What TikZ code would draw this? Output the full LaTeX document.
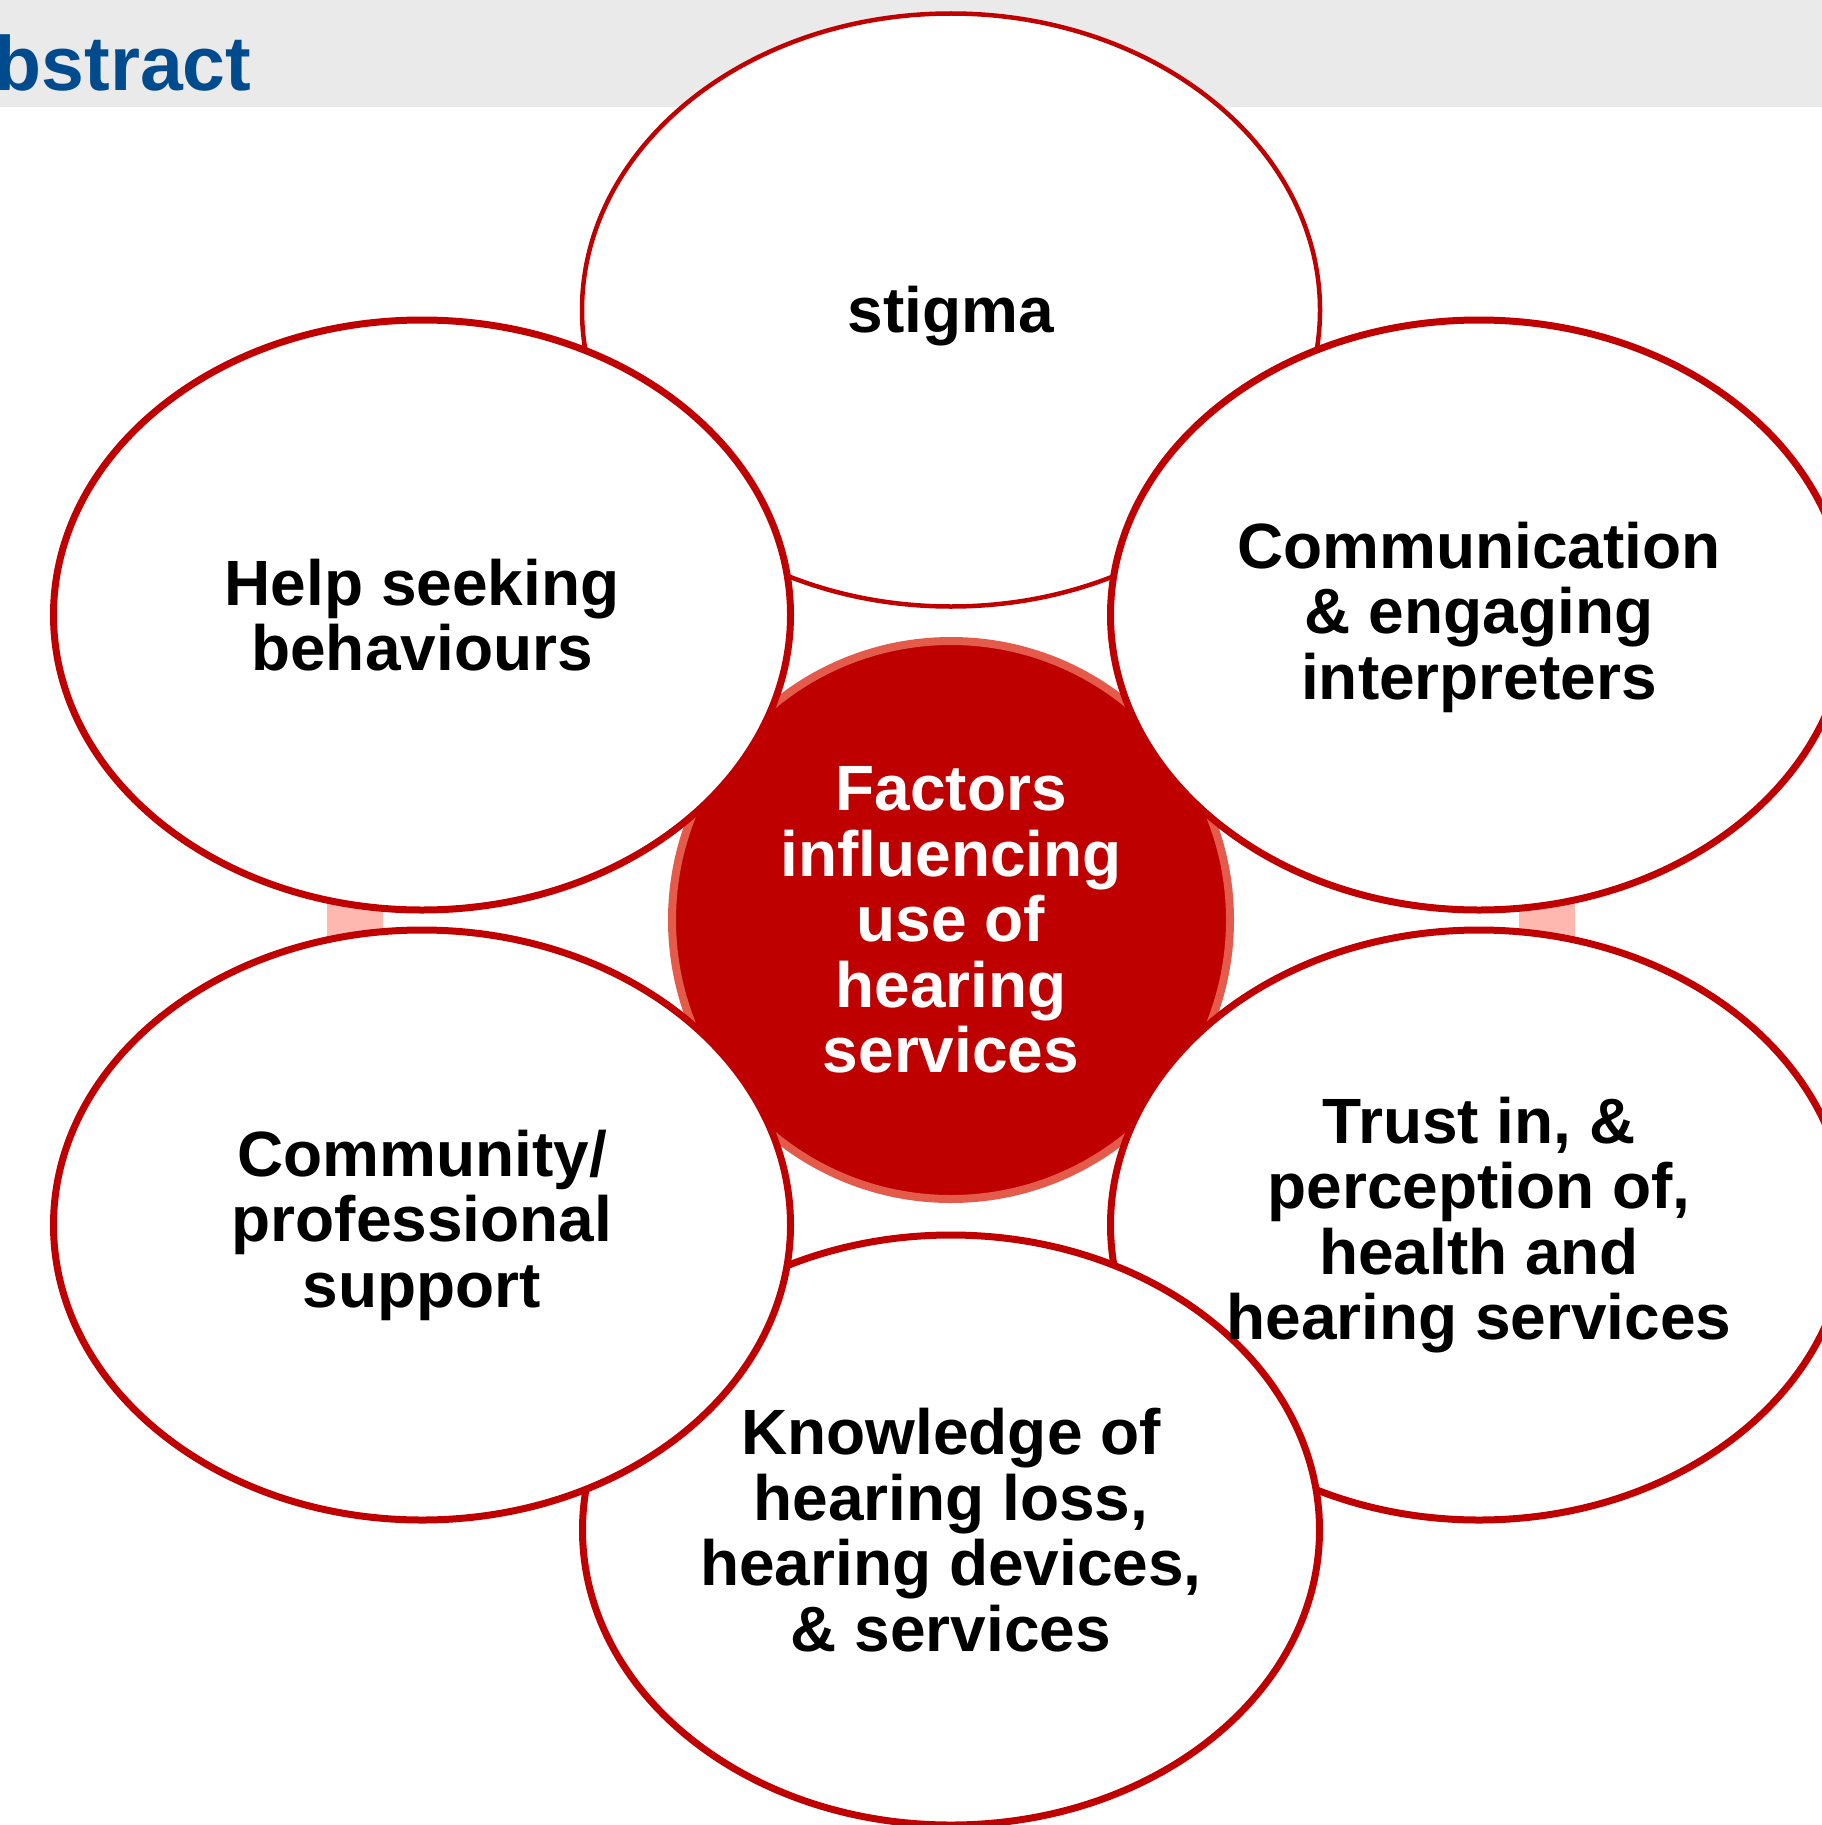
\documentclass[tikz,border=0pt]{standalone}
\usepackage{fontspec}
\setmainfont{Liberation Sans}
\usetikzlibrary{shapes.geometric}
\definecolor{ring}{HTML}{C00000}
\definecolor{core}{HTML}{BE0000}
\definecolor{coreedge}{HTML}{E55B4B}
\definecolor{pinkbar}{HTML}{FFB8B0}
\definecolor{headgrey}{HTML}{EAEAEA}
\definecolor{headblue}{HTML}{004B8D}
\tikzset{
  petal/.style={ellipse, draw=ring, fill=white, line width=7pt,
    minimum width=737pt, minimum height=590pt, inner sep=0pt},
  thinpetal/.style={petal, line width=4.5pt,
    minimum width=738pt, minimum height=593pt},
  hub/.style={circle, draw=coreedge, fill=core, line width=8pt,
    minimum size=558pt, inner sep=0pt},
  lbl/.style={align=center, inner sep=0pt,
    font=\fontsize{64}{65.5}\selectfont\bfseries},
  pinkpiece/.style={fill=pinkbar, draw=none}
}
\begin{document}
\begin{tikzpicture}[x=1pt,y=-1pt]
\useasboundingbox (0,0) rectangle (1822,1825);
% header band
\fill[headgrey] (0,0) rectangle (1822,107);
\node[anchor=base west, inner sep=0pt, text=headblue,
  font=\bfseries\fontsize{77}{80}\selectfont] (head) at (-5.5,91) {bstract};
% pink pieces behind the petals
\fill[pinkpiece] (327,890) rectangle (383,950);
\fill[pinkpiece] (1519,890) rectangle (1575,950);
% hub
\node[hub] (hub) at (951,920) {};
% petals
\node[thinpetal] (stigma) at (951,310) {};
\node[petal] (comm) at (1479,615) {};
\node[petal] (trust) at (1479,1225) {};
\node[petal] (know) at (951,1530) {};
\node[petal] (commun) at (422,1225) {};
\node[petal] (help) at (422,615) {};
% labels
\node[lbl, text=white] (hubt) at (hub.center) {Factors\\influencing\\use of\\hearing\\services};
\node[lbl] (stigmat) at ([yshift=-6pt]stigma.center) {stigma};
\node[lbl] (commt) at ([yshift=-2pt]comm.center) {Communication\\\& engaging\\interpreters};
\node[lbl] (trustt) at (trust.center) {Trust in, \&\\perception of,\\health and\\hearing services};
\node[lbl] (knowt) at (know.center) {Knowledge of\\hearing loss,\\hearing devices,\\\& services};
\node[lbl] (communt) at (commun.center) {Community/\\professional\\support};
\node[lbl] (helpt) at (help.center) {Help seeking\\behaviours};
\end{tikzpicture}
\end{document}
